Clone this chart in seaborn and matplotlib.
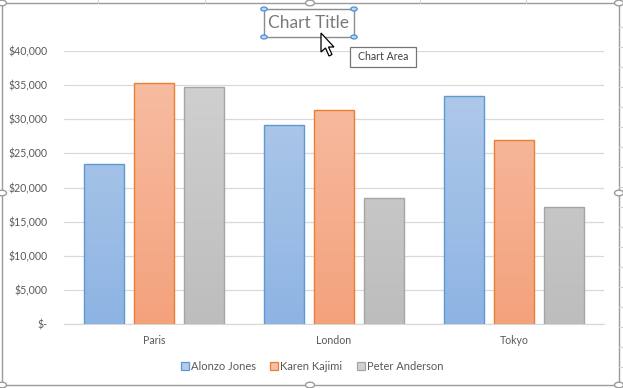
import numpy as np
import pandas as pd
import matplotlib
matplotlib.use("Agg")
import matplotlib.pyplot as plt
from matplotlib.patches import Rectangle, Circle, Polygon
from matplotlib.lines import Line2D
from matplotlib.colors import LinearSegmentedColormap
from matplotlib.ticker import FuncFormatter
import seaborn as sns

# data
cities = ["Paris", "London", "Tokyo"]
people = ["Alonzo Jones", "Karen Kajimi", "Peter Anderson"]
alonzo = [23450, 29150, 33400]
karen = [35300, 31350, 27000]
peter = [34700, 18500, 17150]
y_ticks = [0, 5000, 10000, 15000, 20000, 25000, 30000, 35000, 40000]

# Excel-ish colours: (top of gradient, bottom of gradient, outline)
fills_top = ["#B4CCEA", "#F7BFA6", "#D2D2D2"]
fills_bot = ["#8EB4E3", "#F4A27C", "#BDBDBD"]
edges = ["#5B9BD5", "#ED7D31", "#A5A5A5"]

df = pd.DataFrame({
    "city": cities * 3,
    "person": [people[0]] * 3 + [people[1]] * 3 + [people[2]] * 3,
    "sales": alonzo + karen + peter,
})

W, H = 623, 388
sns.set_style("white")
plt.rcParams["font.family"] = ["Lato", "DejaVu Sans"]

fig = plt.figure(figsize=(W / 100, H / 100), dpi=100)
fig.patch.set_facecolor("white")


def px(x, y):
    # pixel coords (top-left origin) -> figure fraction
    return x / W, 1 - y / H


ax = fig.add_axes([64 / W, (H - 324) / H, (604 - 64) / W, (324 - 51) / H])

sns.barplot(data=df, x="city", y="sales", hue="person", order=cities,
            hue_order=people, palette=fills_bot, width=0.833, gap=0.2,
            legend=False, ax=ax, zorder=3)

# gradient fill + coloured outline for every bar
for i, cont in enumerate(ax.containers):
    cmap = LinearSegmentedColormap.from_list("g%d" % i, [fills_bot[i], fills_top[i]])
    grad = np.linspace(0, 1, 256).reshape(-1, 1)
    for bar in cont:
        bar.set_facecolor("none")
        bar.set_edgecolor(edges[i])
        bar.set_linewidth(1.0)
        x0 = bar.get_x()
        w = bar.get_width()
        im = ax.imshow(grad, cmap=cmap, origin="lower", aspect="auto",
                       extent=[x0, x0 + w, 0, 40000], zorder=2.5)
        im.set_clip_path(bar)

ax.set_xlim(-0.5, 2.5)
ax.set_ylim(0, 40000)
ax.set_yticks(y_ticks)
ax.yaxis.set_major_formatter(FuncFormatter(lambda v, p: "$-" if v == 0 else "${:,.0f}".format(v)))
ax.grid(axis="y", color="#D9D9D9", linewidth=0.9, zorder=0)
ax.set_axisbelow(True)
for s in ["top", "right", "left"]:
    ax.spines[s].set_visible(False)
ax.spines["bottom"].set_color("#D9D9D9")
ax.spines["bottom"].set_linewidth(0.9)
ax.tick_params(axis="both", length=0, labelsize=7.6, labelcolor="#595959")
ax.tick_params(axis="y", pad=12)
ax.tick_params(axis="x", pad=8)
ax.set_xlabel("")
ax.set_ylabel("")

# legend
handles = [Rectangle((0, 0), 1, 1, facecolor=fills_top[i], edgecolor=edges[i], linewidth=0.9)
           for i in range(3)]
fig.legend(handles, people, loc="center", bbox_to_anchor=px(312, 366), ncol=3,
           frameon=False, fontsize=8, labelcolor="#595959", handlelength=0.7,
           handleheight=0.7, handletextpad=0.2, columnspacing=1.3, borderaxespad=0)

# spreadsheet grid peeking out around the chart
for gx in [98, 205, 420, 526]:
    fig.add_artist(Line2D([gx / W, gx / W], [1, 1 - 3 / H], transform=fig.transFigure,
                          color="#D4D4D4", linewidth=0.8))
for gy in range(27, 385, 20):
    fig.add_artist(Line2D([619 / W, 1], [1 - gy / H, 1 - gy / H], transform=fig.transFigure,
                          color="#D4D4D4", linewidth=0.8))

# title with selection box
fig.text(*px(309, 23), "Chart Title", ha="center", va="center", fontsize=12.5, color="#7A7A7A")
x0, y0 = px(264, 37)
x1, y1 = px(354, 9)
fig.add_artist(Rectangle((x0, y0), x1 - x0, y1 - y0, transform=fig.transFigure,
                         fill=False, edgecolor="#8C8C8C", linewidth=1.0))

# chart area border with handles
bx0, by0 = px(2, 385)
bx1, by1 = px(619, 3)
fig.add_artist(Rectangle((bx0, by0), bx1 - bx0, by1 - by0, transform=fig.transFigure,
                         fill=False, edgecolor="#9B9B9B", linewidth=1.0))
for hx, hy in [(2, 3), (310, 3), (619, 3), (2, 193), (619, 193), (2, 385), (310, 385), (619, 385)]:
    c = px(hx, hy)
    fig.add_artist(Circle(c, 4.5 / W, transform=fig.transFigure, facecolor="white",
                          edgecolor="#9B9B9B", linewidth=1.0, zorder=10))
for hx, hy in [(264, 9), (354, 9), (264, 37), (354, 37)]:
    c = px(hx, hy)
    fig.add_artist(Circle(c, 3.2 / W, transform=fig.transFigure, facecolor="#BDD7EE",
                          edgecolor="#4A90D9", linewidth=0.9, zorder=10))

# tooltip
tx0, ty0 = px(350, 67)
tx1, ty1 = px(416, 47)
fig.add_artist(Rectangle((tx0, ty0), tx1 - tx0, ty1 - ty0, transform=fig.transFigure,
                         facecolor="white", edgecolor="#767676", linewidth=0.9, zorder=10))
fig.text(*px(383, 57), "Chart Area", ha="center", va="center", fontsize=7.6,
         color="#404040", zorder=11)

# mouse cursor
arrow = [(0, 0), (0, 19), (4.5, 15), (8, 23), (11, 21.5), (7.5, 14), (13, 14)]
fig.add_artist(Polygon([px(321 + a, 33 + b) for a, b in arrow], closed=True,
                       transform=fig.transFigure, facecolor="white", edgecolor="black",
                       linewidth=0.9, zorder=12))

fig.savefig("out.png", dpi=100)
